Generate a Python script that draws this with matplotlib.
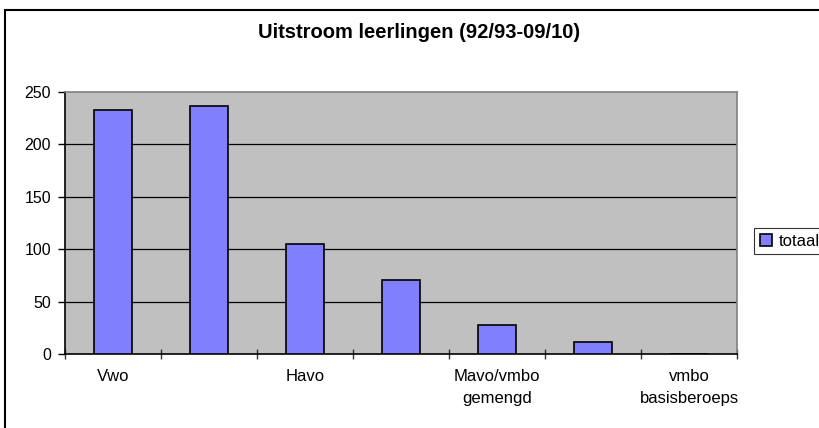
import matplotlib.pyplot as plt
from matplotlib.patches import Rectangle

plt.rcParams['font.family'] = ['Liberation Sans', 'DejaVu Sans']

# data
categories = ['Vwo', '', 'Havo', '', 'Mavo/vmbo\ngemengd', '', 'vmbo\nbasisberoeps']
totaal = [233, 237, 105, 71, 28, 11, 0]
yticks = [0, 50, 100, 150, 200, 250]

W, H = 819, 428
fig = plt.figure(figsize=(W / 100, H / 100), dpi=100)
ax = fig.add_axes([65 / W, 1 - 354 / H, (737 - 65) / W, (354 - 92) / H])

# outer chart border (only top and left are visible in the crop)
fig.patches.append(Rectangle((5 / W, -0.2), 1.2, 1 - 10 / H + 0.2, transform=fig.transFigure,
                             fill=False, edgecolor='black', linewidth=1.5))

ax.set_facecolor('#C0C0C0')
x = list(range(len(categories)))
ax.bar(x, totaal, width=0.4, color='#8080FF', edgecolor='black', linewidth=1.2,
       label='totaal', zorder=3)

ax.set_xlim(-0.5, len(categories) - 0.5)
ax.set_ylim(0, 250)
ax.set_yticks(yticks)
ax.set_yticklabels([str(v) for v in yticks], fontsize=11.5)
for v in yticks[1:-1]:
    ax.axhline(v, color='black', linewidth=0.9, zorder=1)

# category labels sit under the bars, tick marks between categories
ax.set_xticks(x)
ax.set_xticklabels(categories, fontsize=12, linespacing=1.55)
ax.tick_params(axis='x', length=0, pad=11)
ax.set_xticks([i - 0.5 for i in range(len(categories) + 1)], minor=True)
ax.tick_params(axis='x', which='minor', direction='inout', length=7, width=1, color='#333333')
ax.tick_params(axis='y', direction='out', length=5, width=1, pad=5)

ax.spines['left'].set_color('black')
ax.spines['bottom'].set_color('black')
ax.spines['top'].set_color('#808080')
ax.spines['right'].set_color('#808080')
for s in ax.spines.values():
    s.set_linewidth(1.2)

fig.text(419 / W, 1 - 33 / H, 'Uitstroom leerlingen (92/93-09/10)', fontsize=14.5,
         fontweight='bold', ha='center', va='center')

leg = fig.legend(loc='center left', bbox_to_anchor=(754 / W, 1 - 241 / H), fontsize=12,
                 frameon=True, fancybox=False, shadow=False, borderpad=0.35,
                 handlelength=0.75, handleheight=0.75, handletextpad=0.4, borderaxespad=0)
leg.get_frame().set_edgecolor('black')
leg.get_frame().set_linewidth(0.8)

fig.savefig('out.png', dpi=100)
